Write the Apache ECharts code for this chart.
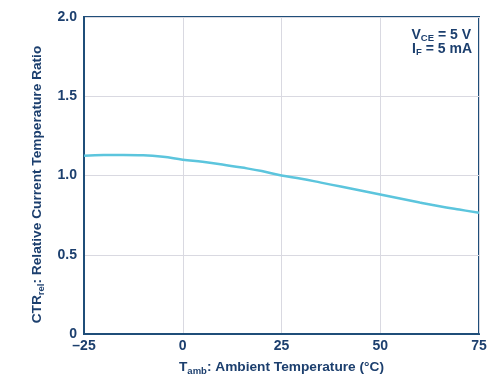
<!DOCTYPE html>
<html>
<head>
<meta charset="utf-8">
<script src="https://cdn.jsdelivr.net/npm/echarts@6/dist/echarts.min.js"></script>
<style>
  html, body { margin: 0; padding: 0; background: #fff; }
  #chart { width: 496px; height: 378px; }
</style>
</head>
<body>
<div id="chart"></div>
<script>
// ambient temperature (°C) and relative CTR
const temps = [-25, -20, -15, -10, -5, 0, 5, 10, 15, 20, 25, 30, 35, 40, 45, 50, 55, 60, 65, 70, 75]
const ctrRel = [1.125, 1.13, 1.13, 1.128, 1.118, 1.10, 1.087, 1.07, 1.05, 1.028, 1.0, 0.98, 0.955, 0.93, 0.905, 0.88, 0.855, 0.83, 0.806, 0.785, 0.765]
const xTicks = [-25, 0, 25, 50, 75]
const yTicks = [0, 0.5, 1.0, 1.5, 2.0]

const navy = '#1c3f6e'
const font = 'Liberation Sans, Arial, sans-serif'

// 下标用的富文本样式
const rich = {
  b: { fontSize: 13.7, fontWeight: 'bold', color: navy, fontFamily: font, lineHeight: 18, verticalAlign: 'middle' },
  s: { fontSize: 9.5, fontWeight: 'bold', color: navy, fontFamily: font, lineHeight: 9, verticalAlign: 'bottom' },
}
const richG = {
  b: { fill: navy, fontSize: 14, fontWeight: 'bold', fontFamily: font, lineHeight: 16, verticalAlign: 'middle' },
  s: { fill: navy, fontSize: 9.5, fontWeight: 'bold', fontFamily: font, lineHeight: 8, verticalAlign: 'bottom' },
}
const tickLabel = { color: navy, fontSize: 14, fontWeight: 'bold', fontFamily: font }

const chart = echarts.init(document.getElementById('chart'))
chart.setOption({
  animation: false,
  grid: {
    left: 84, right: 17, top: 17, bottom: 44,
    outerBoundsMode: 'none',
    show: true, borderColor: '#1f4e79', borderWidth: 2,
  },
  xAxis: {
    type: 'value',
    min: xTicks[0],
    max: xTicks[xTicks.length - 1],
    interval: 25,
    name: '{b|T}{s|amb}{b|: Ambient Temperature (°C)}',
    nameLocation: 'middle',
    nameGap: 24,
    nameTextStyle: { rich },
    axisLine: { show: true, onZero: false, lineStyle: { color: '#1f4e79', width: 2 } },
    axisTick: { show: false },
    axisLabel: {
      margin: 5,
      ...tickLabel,
      formatter: v => String(v).replace('-', '–'),
    },
    splitLine: { lineStyle: { color: '#d9d9e1', width: 1 } },
  },
  yAxis: {
    type: 'value',
    min: yTicks[0],
    max: yTicks[yTicks.length - 1],
    interval: 0.5,
    name: '{b|CTR}{s|rel}{b|: Relative Current Temperature Ratio}',
    nameLocation: 'middle',
    nameGap: 38,
    nameTextStyle: { rich, padding: [0, 18, 0, 0] },
    axisLine: { show: true, onZero: false, lineStyle: { color: '#1f4e79', width: 2 } },
    axisTick: { show: false },
    axisLabel: {
      margin: 7,
      ...tickLabel,
      formatter: v => (v === 0 ? '0' : v.toFixed(1)),
    },
    splitLine: { lineStyle: { color: '#d9d9e1', width: 1 } },
  },
  graphic: [
    {
      type: 'text', x: 471, y: 35,
      style: { text: '{b|V}{s|CE}{b| = 5 V}', align: 'right', verticalAlign: 'middle', rich: richG },
    },
    {
      type: 'text', x: 472, y: 49,
      style: { text: '{b|I}{s|F}{b| = 5 mA}', align: 'right', verticalAlign: 'middle', rich: richG },
    },
  ],
  series: [
    {
      type: 'line',
      data: temps.map((t, i) => [t, ctrRel[i]]),
      smooth: 0.4,
      showSymbol: false,
      lineStyle: { color: '#5cc5dd', width: 2.5 },
    },
  ],
})
</script>
</body>
</html>
